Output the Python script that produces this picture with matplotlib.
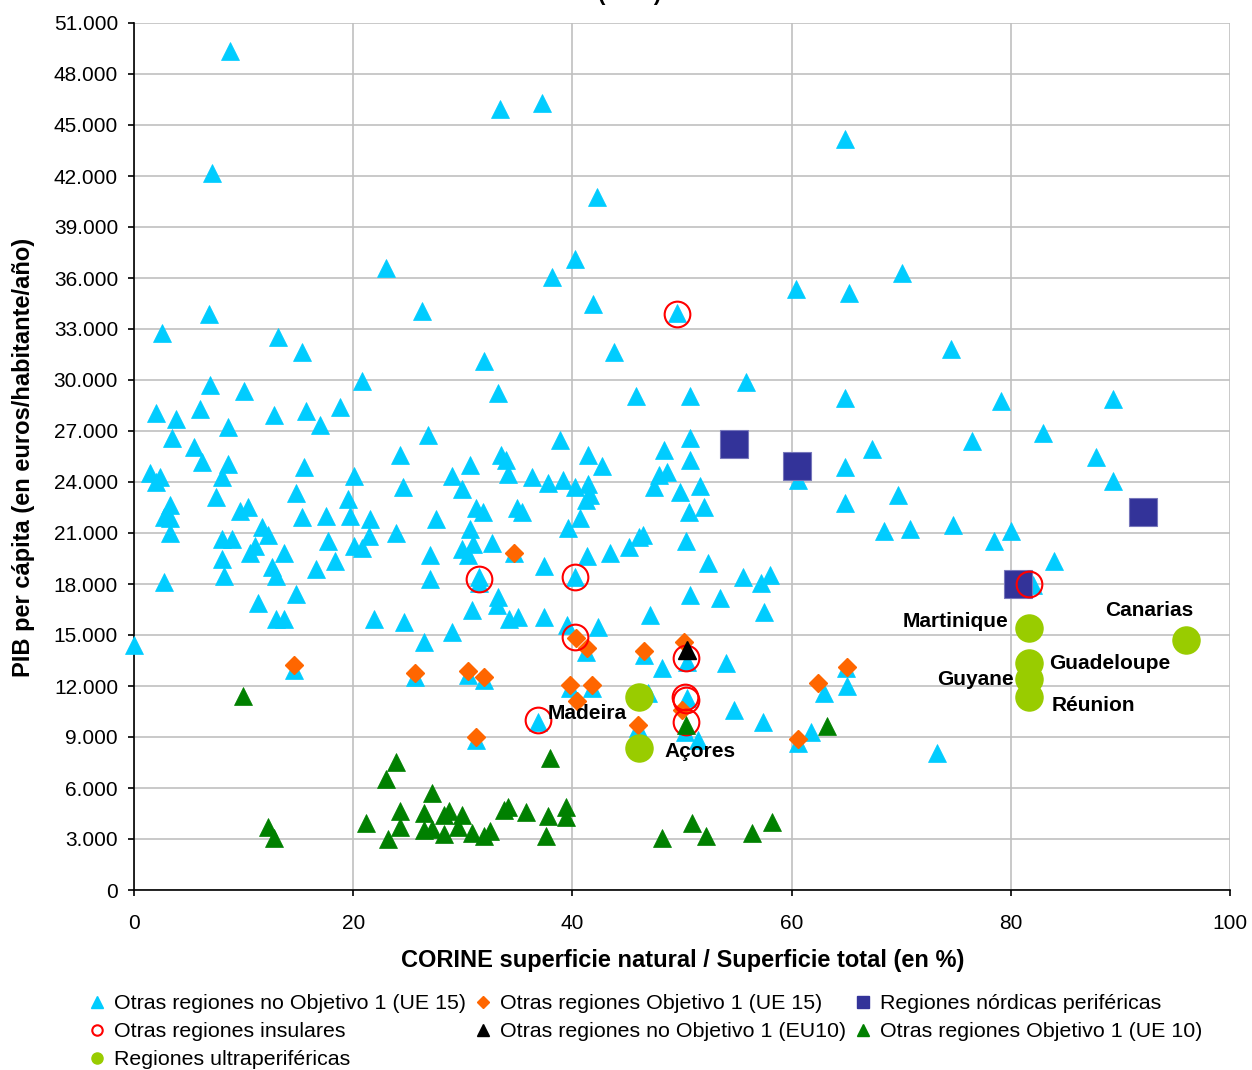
import matplotlib
matplotlib.use("Agg")
import matplotlib.pyplot as plt
from matplotlib.lines import Line2D
from matplotlib.ticker import FuncFormatter

plt.rcParams['font.family'] = ['Liberation Sans', 'DejaVu Sans']

# Otras regiones no Objetivo 1 (UE 15)
cyan_x = [8.8, 33.4, 37.2, 64.9, 7.1, 42.2, 40.2, 23.0, 70.1, 38.1, 60.4, 65.2, 41.9, 49.5, 26.3, 6.8,
          2.6, 13.1, 15.3, 31.9, 20.8, 33.2, 6.9, 10.0, 2.0, 3.8, 6.0, 8.6, 12.8, 15.7, 18.8, 17.0,
          3.5, 5.5, 6.2, 8.6, 8.0, 1.5, 2.4, 2.0, 15.5, 20.1, 24.3, 26.8, 7.5, 14.8, 24.5, 29.0,
          30.7, 29.9, 31.2, 3.3, 2.7, 3.3, 3.3, 9.7, 10.4, 15.3, 17.5, 19.5, 19.7, 21.5, 21.4, 20.1,
          20.8, 11.7, 12.2, 8.0, 8.9, 11.0, 10.6, 13.7, 17.7, 23.9, 27.6, 8.0, 8.2, 12.6, 13.0, 16.6,
          18.3, 27.0, 27.0, 30.7, 30.9, 29.9, 30.5, 32.7, 31.5, 31.5, 2.7, 14.8, 11.3,
          43.8, 45.8, 50.7, 55.8, 64.9, 38.9, 50.7, 48.4, 33.5, 33.9, 34.1, 41.4, 42.7, 50.7, 47.9,
          48.6, 47.4, 49.8, 51.6, 36.3, 37.8, 39.1, 40.2, 41.4, 41.6, 41.2, 40.7, 39.6, 31.8, 34.9,
          35.4, 50.6, 52.0, 64.9, 64.9, 60.6, 34.7, 37.4, 40.2, 41.3, 43.4, 45.2, 46.1, 46.4, 50.4,
          52.4, 55.6, 57.2, 58.0, 33.2, 50.7, 53.5,
          74.5, 79.1, 89.3, 76.5, 82.9, 67.3, 87.8, 89.3, 69.7, 68.4, 70.8, 74.7, 78.5, 80.0, 83.9, 82.0,
          13.0, 13.7, 21.9, 24.6, 26.5, 29.0, 30.8, 33.1, 0.0, 14.6, 25.6, 30.5, 31.9, 31.2,
          34.2, 35.0, 37.4, 39.5, 42.3, 47.1, 57.5, 41.2, 46.5, 50.5, 39.8, 41.8, 46.0, 60.6, 48.2,
          54.0, 46.9, 50.5, 54.7, 57.4, 61.8, 63.0, 65.1, 36.9, 50.3, 51.5, 65.0, 73.3]
cyan_y = [49350, 45940, 46290, 44170, 42170, 40760, 37120, 36590, 36290, 36060, 35350, 35120, 34470, 33940, 34060, 33880,
          32760, 32530, 31650, 31120, 29940, 29230, 29700, 29350, 28060, 27700, 28290, 27230, 27940, 28170, 28410, 27350,
          26590, 26060, 25170, 25060, 24290, 24530, 24290, 24000, 24880, 24350, 25590, 26760, 23120, 23350, 23700, 24350,
          25000, 23590, 22470, 22650, 21940, 21880, 21000, 22290, 22530, 21940, 22000, 23000, 22000, 21820, 20820, 20230,
          20120, 21350, 20880, 20650, 20650, 20230, 19820, 19820, 20530, 21000, 21820, 19470, 18470, 19000, 18470, 18880,
          19350, 19700, 18290, 21230, 20350, 20060, 19700, 20410, 18410, 18060, 18120, 17410, 16880,
          31650, 29060, 29060, 29880, 28940, 26470, 26590, 25880, 25590, 25290, 24470, 25590, 24940, 25290, 24410,
          24590, 23700, 23410, 23760, 24290, 23940, 24120, 23700, 23880, 23230, 22940, 21880, 21290, 22230, 22470,
          22230, 22230, 22530, 22760, 24880, 24120, 19820, 19060, 18410, 19650, 19820, 20180, 20760, 20880, 20530,
          19230, 18410, 18060, 18530, 17230, 17350, 17180,
          31820, 28760, 28880, 26410, 26880, 25940, 25470, 24060, 23230, 21120, 21230, 21470, 20530, 21120, 19350, 17940,
          15940, 15940, 15940, 15760, 14590, 15180, 16470, 16760, 14410, 12940, 12530, 12650, 12350, 8820,
          15940, 16060, 16060, 15590, 15470, 16180, 16350, 14000, 13820, 13410, 11880, 11880, 9530, 8650, 13060,
          13350, 11590, 11290, 10590, 9880, 9290, 11590, 12000, 9880, 9290, 8820, 13060, 8060]

# Otras regiones Objetivo 1 (UE 15)
orange_x = [14.6, 25.6, 30.5, 31.9, 31.2, 34.7, 40.3, 41.3, 46.5, 50.2, 39.8, 41.8, 40.4, 46.0, 50.0, 60.6, 62.4, 65.1]
orange_y = [13240, 12760, 12880, 12530, 9000, 19820, 14820, 14230, 14060, 14590, 12060, 12060, 11120, 9710, 10590, 8880, 12180, 13120]

# Regiones nórdicas periféricas
navy_x = [54.7, 60.5, 92.1, 80.7]
navy_y = [26230, 24940, 22230, 18000]

# Otras regiones insulares
red_x = [49.5, 31.5, 40.2, 81.7, 40.2, 36.9, 50.4, 50.3, 50.4, 50.4]
red_y = [33880, 18290, 18410, 18000, 14880, 10000, 13650, 11350, 11180, 9880]

# Otras regiones no Objetivo 1 (EU10)
black_x = [50.5]
black_y = [14120]

# Otras regiones Objetivo 1 (UE 10)
green_x = [9.9, 12.2, 12.8, 23.9, 23.0, 27.2, 21.2, 23.2, 24.3, 24.3, 26.5, 26.5, 27.2, 28.3, 28.7, 28.3,
           29.6, 29.9, 30.8, 31.9, 32.5, 50.4, 63.2, 38.0, 33.8, 34.1, 35.8, 37.8, 39.4, 39.4, 37.6,
           48.2, 50.9, 52.2, 56.4, 58.2]
green_y = [11410, 3710, 3060, 7530, 6530, 5710, 3940, 3000, 4650, 3710, 4530, 3530, 3590, 4410, 4650, 3290,
           3710, 4410, 3350, 3180, 3470, 9710, 9650, 7760, 4710, 4880, 4590, 4350, 4880, 4290, 3180,
           3060, 3940, 3180, 3350, 4000]

# Regiones ultraperiféricas
ultra_names = ['Madeira', 'Açores', 'Martinique', 'Canarias', 'Guadeloupe', 'Guyane', 'Réunion']
ultra_x = [46.1, 46.1, 81.7, 96.0, 81.7, 81.7, 81.7]
ultra_y = [11350, 8350, 15410, 14710, 13350, 12410, 11350]

fig = plt.figure(figsize=(12.52, 10.70), dpi=100)
ax = fig.add_axes([134 / 1252, 1 - 890 / 1070, 1096 / 1252, 867 / 1070])

ax.plot(cyan_x, cyan_y, ls='none', marker='^', ms=13.2, color='#00ccff', mec='#00ccff', mew=0.5, clip_on=False, zorder=3)
ax.plot(orange_x, orange_y, ls='none', marker='D', ms=9.0, color='#ff6600', mec='#ff6600', clip_on=False, zorder=4)
ax.plot(navy_x, navy_y, ls='none', marker='s', ms=20, color='#333399', mec='#7777bb', mew=0.8, clip_on=False, zorder=5)
ax.plot(red_x, red_y, ls='none', marker='o', ms=18.5, mfc='none', mec='#ff0000', mew=1.5, clip_on=False, zorder=6)
ax.plot(black_x, black_y, ls='none', marker='^', ms=13.2, color='black', clip_on=False, zorder=7)
ax.plot(green_x, green_y, ls='none', marker='^', ms=13.2, color='#008000', mec='#008000', mew=0.5, clip_on=False, zorder=8)
ax.plot(ultra_x, ultra_y, ls='none', marker='o', ms=19.5, color='#99cc00', mec='#99cc00', clip_on=False, zorder=9)

# etiquetas de las regiones ultraperifericas
label_off = {'Madeira': (-52, -16, 'center'), 'Açores': (61, -3, 'center'),
             'Martinique': (-21, 7, 'right'), 'Canarias': (-37, 29, 'center'),
             'Guadeloupe': (20, 0, 'left'), 'Guyane': (-16, 0, 'right'),
             'Réunion': (22, -8, 'left')}
for name, x, y in zip(ultra_names, ultra_x, ultra_y):
    dx, dy, ha = label_off[name]
    ax.annotate(name, (x, y), xytext=(dx, dy), textcoords='offset pixels',
                ha=ha, va='center', fontsize=15, fontweight='bold', zorder=10)

ax.set_xlim(0, 100)
ax.set_ylim(0, 51000)
ax.set_xticks(range(0, 101, 20))
ax.set_yticks(range(0, 51001, 3000))
ax.yaxis.set_major_formatter(FuncFormatter(lambda v, p: f"{int(v):,}".replace(",", ".")))
ax.grid(True, color='#c0c0c0', linewidth=1.2)
ax.set_axisbelow(True)
for s in ['top', 'right']:
    ax.spines[s].set_visible(False)
for s in ['left', 'bottom']:
    ax.spines[s].set_linewidth(1.2)
    ax.spines[s].set_color('black')
ax.tick_params(axis='both', direction='out', length=4.5, width=1.2, labelsize=15)
ax.tick_params(axis='x', pad=13)
ax.tick_params(axis='y', pad=7)

fig.text(683 / 1252, 1 - 960 / 1070, 'CORINE superficie natural / Superficie total (en %)',
         ha='center', va='center', fontsize=17, fontweight='bold')
fig.text(24 / 1252, 1 - 457 / 1070, 'PIB per cápita (en euros/habitante/año)',
         ha='center', va='center', rotation=90, fontsize=17, fontweight='bold')
# titulo cortado arriba (como en el original)
fig.text(630 / 1252, 1 - 5 / 1070, '(2004)', ha='center', va='bottom', fontsize=16, fontweight='bold')

handles = [
    Line2D([], [], ls='none', marker='^', ms=9, color='#00ccff'),
    Line2D([], [], ls='none', marker='o', ms=7.5, mfc='none', mec='#ff0000', mew=1.5),
    Line2D([], [], ls='none', marker='o', ms=8, color='#99cc00'),
    Line2D([], [], ls='none', marker='D', ms=6.5, color='#ff6600'),
    Line2D([], [], ls='none', marker='^', ms=9, color='black'),
    Line2D([], [], ls='none', marker='s', ms=9, color='#333399'),
    Line2D([], [], ls='none', marker='^', ms=9, color='#008000'),
]
labels = ['Otras regiones no Objetivo 1 (UE 15)', 'Otras regiones insulares', 'Regiones ultraperiféricas',
          'Otras regiones Objetivo 1 (UE 15)', 'Otras regiones no Objetivo 1 (EU10)',
          'Regiones nórdicas periféricas', 'Otras regiones Objetivo 1 (UE 10)']
fig.legend(handles, labels, loc='upper left', bbox_to_anchor=(88 / 1252, 1 - 994 / 1070),
           ncol=3, frameon=False, fontsize=15.4, borderpad=0, borderaxespad=0, handlelength=0.8,
           handletextpad=0.4, columnspacing=0.4, labelspacing=0.43)

fig.savefig('out.png', dpi=100)
